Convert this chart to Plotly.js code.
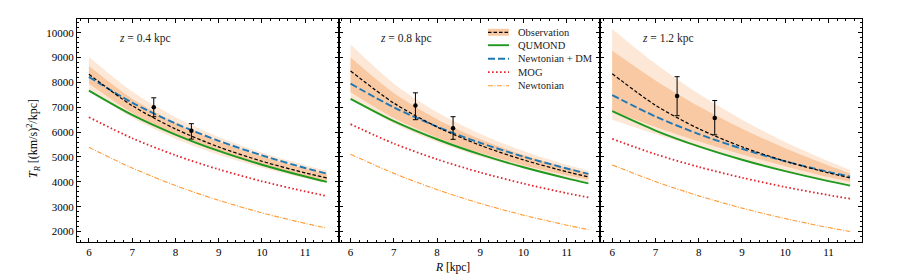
<!DOCTYPE html>
<html>
<head>
<meta charset="utf-8">
<script src="https://cdn.plot.ly/plotly-3.0.1.min.js"></script>
<style>
html,body{margin:0;padding:0;background:#fff;}
#chart{width:900px;height:277px;}
</style>
</head>
<body>
<div id="chart"></div>
<script>
// ---------------- data ----------------
const R = [6, 7, 8, 9, 10, 11, 11.5];
const errR = [7.5, 8.37];
const panelLabels = ['z = 0.4 kpc', 'z = 0.8 kpc', 'z = 1.2 kpc'];
const xTicks = [6, 7, 8, 9, 10, 11];
const yTicks = [2000, 3000, 4000, 5000, 6000, 7000, 8000, 9000, 10000];
const seriesNames = ['Observation', 'QUMOND', 'Newtonian + DM', 'MOG', 'Newtonian'];

// z = 0.4 kpc
const obs_04        = [8330, 7066, 6128, 5404, 4829, 4362, 4160];
const obs_04_in_hi  = [8660, 7345, 6367, 5614, 5016, 4530, 4320];
const obs_04_in_lo  = [7960, 6774, 5891, 5208, 4665, 4221, 4030];
const obs_04_out_hi = [9020, 7630, 6600, 5807, 5179, 4671, 4450];
const obs_04_out_lo = [7700, 6578, 5738, 5088, 4568, 4144, 3960];
const qumond_04     = [7670, 6693, 5901, 5243, 4688, 4213, 4000];
const nfw_04        = [8220, 7188, 6349, 5652, 5063, 4556, 4330];
const mog_04        = [6600, 5755, 5070, 4503, 4023, 3614, 3430];
const newt_04       = [5390, 4557, 3852, 3257, 2753, 2328, 2140];
const err_04        = [7000, 6050];
const err_04_plus   = [380, 290];
const err_04_minus  = [380, 330];

// z = 0.8 kpc
const obs_08        = [8460, 7167, 6207, 5468, 4881, 4405, 4200];
const obs_08_in_hi  = [9000, 7572, 6519, 5713, 5077, 4562, 4340];
const obs_08_in_lo  = [7600, 6563, 5778, 5165, 4672, 4267, 4090];
const obs_08_out_hi = [9520, 7950, 6801, 5927, 5240, 4687, 4450];
const obs_08_out_lo = [7330, 6346, 5602, 5018, 4547, 4159, 3990];
const qumond_08     = [7340, 6443, 5713, 5103, 4585, 4140, 3940];
const nfw_08        = [7950, 6997, 6218, 5567, 5013, 4535, 4320];
const mog_08        = [6320, 5540, 4906, 4377, 3929, 3543, 3370];
const newt_08       = [5110, 4340, 3685, 3130, 2658, 2257, 2080];
const err_08        = [7070, 6160];
const err_08_plus   = [510, 460];
const err_08_minus  = [570, 450];

// z = 1.2 kpc
const obs_12        = [8350, 7079, 6136, 5409, 4831, 4363, 4160];
const obs_12_in_hi  = [9270, 8080, 7040, 6140, 5350, 4660, 4340];
const obs_12_in_lo  = [6850, 6210, 5630, 5100, 4630, 4190, 4000];
const obs_12_out_hi = [10150, 8750, 7540, 6500, 5600, 4830, 4480];
const obs_12_out_lo = [6500, 5920, 5390, 4910, 4470, 4070, 3900];
const qumond_12     = [6840, 6064, 5426, 4889, 4430, 4030, 3850];
const nfw_12        = [7490, 6630, 5920, 5330, 4825, 4400, 4210];
const mog_12        = [5730, 5111, 4599, 4166, 3793, 3467, 3320];
const newt_12       = [4680, 4010, 3436, 2943, 2522, 2161, 2000];
const err_12        = [7450, 6570];
const err_12_plus   = [780, 700];
const err_12_minus  = [790, 680];

// ---------------- styles ----------------
const C_OUT = '#fde7d6';
const C_IN  = '#f8c9a2';
const C_OBS = '#000000';
const C_QUM = '#1f9a1f';
const C_NFW = '#1f77b4';
const C_MOG = '#e3262e';
const C_NEW = '#ff9a33';
const FONT = 'Liberation Serif, Times New Roman, serif';

const panels = [
  {ax: '', obs: obs_04, inHi: obs_04_in_hi, inLo: obs_04_in_lo, outHi: obs_04_out_hi, outLo: obs_04_out_lo,
   qum: qumond_04, nfw: nfw_04, mog: mog_04, newt: newt_04, err: err_04, ep: err_04_plus, em: err_04_minus},
  {ax: '2', obs: obs_08, inHi: obs_08_in_hi, inLo: obs_08_in_lo, outHi: obs_08_out_hi, outLo: obs_08_out_lo,
   qum: qumond_08, nfw: nfw_08, mog: mog_08, newt: newt_08, err: err_08, ep: err_08_plus, em: err_08_minus},
  {ax: '3', obs: obs_12, inHi: obs_12_in_hi, inLo: obs_12_in_lo, outHi: obs_12_out_hi, outLo: obs_12_out_lo,
   qum: qumond_12, nfw: nfw_12, mog: mog_12, newt: newt_12, err: err_12, ep: err_12_plus, em: err_12_minus}
];

const traces = [];
panels.forEach(p => {
  const xa = 'x' + p.ax, ya = 'y' + p.ax;
  const base = {x: R, xaxis: xa, yaxis: ya, mode: 'lines', showlegend: false, hoverinfo: 'skip'};
  const sp = {shape: 'spline', smoothing: 0.8};
  traces.push(Object.assign({}, base, {y: p.outLo, line: Object.assign({width: 0, color: C_OUT}, sp)}));
  traces.push(Object.assign({}, base, {y: p.outHi, fill: 'tonexty', fillcolor: C_OUT, line: Object.assign({width: 0, color: C_OUT}, sp)}));
  traces.push(Object.assign({}, base, {y: p.inLo, line: Object.assign({width: 0, color: C_IN}, sp)}));
  traces.push(Object.assign({}, base, {y: p.inHi, fill: 'tonexty', fillcolor: C_IN, line: Object.assign({width: 0, color: C_IN}, sp)}));
  traces.push(Object.assign({}, base, {y: p.newt, name: seriesNames[4], line: Object.assign({width: 1.1, color: C_NEW, dash: '5px,1.5px,1px,1.5px'}, sp)}));
  traces.push(Object.assign({}, base, {y: p.mog, name: seriesNames[3], line: Object.assign({width: 1.8, color: C_MOG, dash: '1.6px,2.4px'}, sp)}));
  traces.push(Object.assign({}, base, {y: p.qum, name: seriesNames[1], line: Object.assign({width: 1.9, color: C_QUM}, sp)}));
  traces.push(Object.assign({}, base, {y: p.nfw, name: seriesNames[2], line: Object.assign({width: 1.9, color: C_NFW, dash: '7px,3px'}, sp)}));
  traces.push(Object.assign({}, base, {y: p.obs, name: seriesNames[0], line: Object.assign({width: 1.2, color: C_OBS, dash: '3.5px,2px'}, sp)}));
  traces.push({x: errR, y: p.err, xaxis: xa, yaxis: ya, mode: 'markers', showlegend: false, hoverinfo: 'skip',
    marker: {size: 4.5, color: 'black'},
    error_y: {type: 'data', symmetric: false, array: p.ep, arrayminus: p.em, color: 'black', thickness: 1, width: 2.5}});
});

// ---------------- layout ----------------
const W = 900, H = 277, ML = 77, MR = 38, MT = 19, MB = 35;
const PW = W - ML - MR, PH = H - MT - MB;
const px2x = px => (px - ML) / PW;
const py2y = py => (H - MB - py) / PH;

const axCommon = {
  showline: true, linecolor: 'black', linewidth: 1, mirror: 'allticks',
  ticks: 'inside', ticklen: 4, tickwidth: 1, tickcolor: 'black',
  showgrid: false, zeroline: false,
  tickfont: {family: FONT, size: 11, color: 'black'}
};
const xAx = d => Object.assign({}, axCommon, {
  domain: d, range: [5.725, 11.775], tickvals: xTicks, ticktext: xTicks.map(String),
  minor: {ticks: 'inside', ticklen: 2, tickcolor: 'black', dtick: 0.2, tick0: 0, showgrid: false}
});
const yAx = (anchor, labels) => Object.assign({}, axCommon, {
  anchor: anchor, range: [1580, 10550], tickvals: yTicks, ticktext: yTicks.map(String),
  showticklabels: labels,
  minor: {ticks: 'inside', ticklen: 2, tickcolor: 'black', dtick: 200, tick0: 0, showgrid: false}
});

const annotations = [];
const shapes = [];
panels.forEach((p, i) => {
  annotations.push({xref: 'x' + p.ax + ' domain', yref: 'y' + p.ax + ' domain', x: 0.152, y: 0.912,
    xanchor: 'left', yanchor: 'middle', showarrow: false,
    text: panelLabels[i].replace('z', '<i>z</i>'), font: {family: FONT, size: 11.5, color: '#222'}});
});
annotations.push({xref: 'paper', yref: 'paper', x: px2x(452), y: py2y(267), xanchor: 'center', yanchor: 'middle',
  showarrow: false, text: '<i>R</i> [kpc]', font: {family: FONT, size: 11.5, color: 'black'}});
annotations.push({xref: 'paper', yref: 'paper', x: px2x(33), y: py2y(139), xanchor: 'center', yanchor: 'middle',
  textangle: -90, showarrow: false, text: '<i>T<sub>R</sub></i> [(km/s)<sup>2</sup>/kpc]',
  font: {family: FONT, size: 12, color: 'black'}});

// legend (drawn as annotations + sample shapes)
const legRows = [32.3, 45.2, 58.7, 72.2, 85.7];
const legStyles = [
  {color: C_OBS, width: 1.2, dash: '3.5px,2px'},
  {color: C_QUM, width: 1.9, dash: 'solid'},
  {color: C_NFW, width: 1.9, dash: '7px,3px'},
  {color: C_MOG, width: 1.8, dash: '1.6px,2.4px'},
  {color: C_NEW, width: 1.1, dash: '5px,1.5px,1px,1.5px'}
];
const LX0 = 488, LX1 = 509, LT = 516;
legRows.forEach((py, i) => {
  if (i === 0) {
    shapes.push({type: 'rect', xref: 'paper', yref: 'paper', x0: px2x(LX0), x1: px2x(LX1),
      y0: py2y(py + 3.5), y1: py2y(py - 3.5), fillcolor: C_IN, line: {width: 0}});
  }
  shapes.push({type: 'line', xref: 'paper', yref: 'paper', x0: px2x(LX0), x1: px2x(LX1),
    y0: py2y(py), y1: py2y(py), line: legStyles[i]});
  annotations.push({xref: 'paper', yref: 'paper', x: px2x(LT), y: py2y(py), xanchor: 'left', yanchor: 'middle',
    showarrow: false, text: seriesNames[i], font: {family: FONT, size: 10.5, color: '#222'}});
});

const layout = {
  width: W, height: H,
  margin: {l: ML, r: MR, t: MT, b: MB},
  paper_bgcolor: 'white', plot_bgcolor: 'white',
  showlegend: false,
  font: {family: FONT, color: 'black'},
  xaxis: Object.assign(xAx([0, 1/3]), {anchor: 'y'}),
  xaxis2: Object.assign(xAx([1/3, 2/3]), {anchor: 'y2'}),
  xaxis3: Object.assign(xAx([2/3, 1]), {anchor: 'y3'}),
  yaxis: yAx('x', true),
  yaxis2: Object.assign(yAx('x2', false), {matches: 'y'}),
  yaxis3: Object.assign(yAx('x3', false), {matches: 'y'}),
  annotations: annotations,
  shapes: shapes
};

Plotly.newPlot('chart', traces, layout, {staticPlot: true, displayModeBar: false});
</script>
</body>
</html>
